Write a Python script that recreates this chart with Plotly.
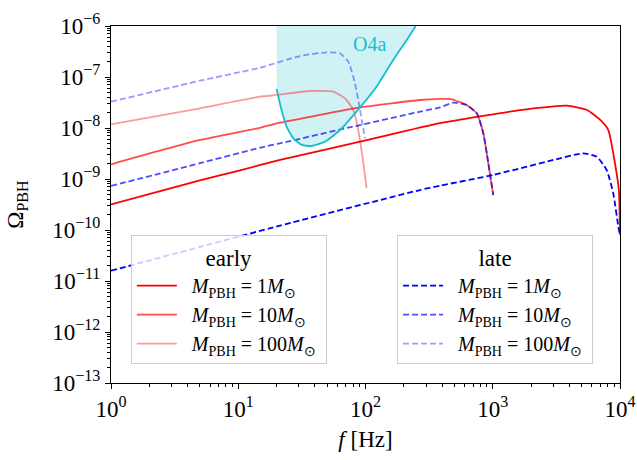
import plotly.graph_objects as go

# ---------------- data ----------------
f_early_1 = [1, 5.0, 10, 21.3, 100, 385, 1640, 2800, 3800, 5500, 7000, 8100, 9140, 9800, 10000]
om_early_1 = [3.19e-10, 9.4e-10, 1.45e-9, 2.36e-9, 5.7e-9, 1.24e-8, 2.25e-8, 2.6e-8, 2.74e-8,
              2.25e-8, 1.44e-8, 9.1e-9, 2.0e-9, 6.0e-10, 8e-11]

f_early_10 = [1, 5.0, 14.8, 21.3, 90.6, 268, 385, 461, 624, 748, 843, 923, 1009]
om_early_10 = [1.94e-9, 5.82e-9, 1.01e-8, 1.27e-8, 2.54e-8, 3.54e-8, 3.71e-8, 3.71e-8,
               2.82e-8, 1.94e-8, 7.87e-9, 2.04e-9, 4.85e-10]

f_early_100 = [1, 5.0, 14.8, 20.0, 36.6, 55.8, 69.0, 80.2, 87.7, 96.2, 102]
om_early_100 = [1.18e-8, 2.43e-8, 4.11e-8, 4.44e-8, 5.31e-8, 5.15e-8, 3.82e-8, 2.25e-8,
                9.14e-9, 2.04e-9, 6.6e-10]

f_late_1 = [1, 5.0, 21.3, 268, 385, 1009, 2992, 5152, 6561, 7852, 8851, 9705, 10000]
om_late_1 = [1.59e-11, 4.65e-11, 1.22e-10, 6.08e-10, 7.4e-10, 1.2e-9, 2.36e-9, 3.19e-9,
             2.74e-9, 1.5e-9, 5.25e-10, 1.16e-10, 7.9e-11]

f_late_10 = [1, 5.0, 14.8, 21.3, 78, 268, 385, 490, 624, 748, 843, 923, 1009]
om_late_10 = [7.3e-10, 2.04e-9, 4.11e-9, 5.01e-9, 1.05e-8, 2.09e-8, 2.54e-8, 3.14e-8,
              2.82e-8, 1.94e-8, 7.87e-9, 2.04e-9, 4.85e-10]

f_late_100 = [1, 5.0, 14.8, 30.5, 49.5, 63.1, 73.3, 82.6, 90.6, 99.1]
om_late_100 = [3.28e-8, 8.45e-8, 1.52e-7, 2.58e-7, 3.05e-7, 2.91e-7, 2.0e-7, 7.52e-8,
               2.25e-8, 6.27e-9]

f_o4a = [20.0, 21.9, 24.0, 27.1, 31.6, 37.8, 48.1, 63.1, 90.6, 122, 165, 211, 248]
om_o4a = [5.82e-8, 2.25e-8, 1.06e-8, 6.27e-9, 4.65e-9, 4.44e-9, 5.4e-9, 9.14e-9,
          2.54e-8, 6.46e-8, 2.15e-7, 5.31e-7, 1.0e-6]

masses = ["1", "10", "100"]
x_tickvals = [1, 10, 100, 1000, 10000]
x_ticktext = ["10<sup>0</sup>", "10<sup>1</sup>", "10<sup>2</sup>", "10<sup>3</sup>", "10<sup>4</sup>"]
y_exps = [-13, -12, -11, -10, -9, -8, -7, -6]
y_tickvals = [10.0 ** e for e in y_exps]
y_ticktext = ["10<sup>\u2212%d</sup>" % (-e) for e in y_exps]

FONT = "Liberation Serif"
CYAN = "#17becf"

fig = go.Figure()

# O4a region
fig.add_trace(go.Scatter(
    x=f_o4a + [f_o4a[-1], f_o4a[0]],
    y=om_o4a + [1e-6, 1e-6],
    fill="toself", fillcolor="rgba(23,190,207,0.2)",
    line=dict(width=0), mode="lines", showlegend=False, hoverinfo="skip"))


def label(m):
    return "  <i>M</i><sub>PBH</sub> = %s<i>M</i><sub>\u2299</sub> " % m


early = [(f_early_1, om_early_1, 1.0), (f_early_10, om_early_10, 0.7), (f_early_100, om_early_100, 0.4)]
late = [(f_late_1, om_late_1, 1.0), (f_late_10, om_late_10, 0.7), (f_late_100, om_late_100, 0.4)]

for i, (fx, oy, a) in enumerate(early):
    fig.add_trace(go.Scatter(
        x=fx, y=oy, mode="lines", name=label(masses[i]),
        line=dict(color="rgba(255,0,0,%s)" % a, width=1.8, shape="spline", smoothing=0.5),
        legend="legend", legendgroup="e%d" % i))

for i, (fx, oy, a) in enumerate(late):
    fig.add_trace(go.Scatter(
        x=fx, y=oy, mode="lines", name=label(masses[i]),
        line=dict(color="rgba(0,0,255,%s)" % a, width=1.8, dash="6px,3px",
                  shape="spline", smoothing=0.5),
        legend="legend2", legendgroup="l%d" % i))

fig.add_trace(go.Scatter(x=f_o4a, y=om_o4a, mode="lines",
                         line=dict(color=CYAN, width=1.8, shape="spline", smoothing=0.5),
                         showlegend=False))

fig.add_annotation(x=2.035, y=-6.35, xref="x", yref="y", text="O4a", showarrow=False,
                   font=dict(family=FONT, size=20, color=CYAN))

minor_x = [m * 10 ** d for d in range(0, 4) for m in range(2, 10)]
minor_y = [m * 10.0 ** d for d in range(-13, -6) for m in range(2, 10)]

axis_common = dict(showline=True, linecolor="black", linewidth=1, mirror=True,
                   ticks="outside", ticklen=5, tickwidth=1, tickcolor="black",
                   showgrid=False, zeroline=False, automargin=False,
                   tickfont=dict(family=FONT, size=23, color="black"))

fig.update_xaxes(type="log", range=[0, 4], tickmode="array", tickvals=x_tickvals,
                 ticktext=x_ticktext,
                 minor=dict(tickmode="array", tickvals=minor_x, ticks="outside",
                            ticklen=3, tickcolor="black", showgrid=False),
                 title=dict(text="<i>f</i> [Hz]", font=dict(family=FONT, size=23, color="black"),
                            standoff=10),
                 **axis_common)
fig.update_yaxes(type="log", range=[-13, -6], tickmode="array", tickvals=y_tickvals,
                 ticktext=y_ticktext,
                 minor=dict(tickmode="array", tickvals=minor_y, ticks="outside",
                            ticklen=3, tickcolor="black", showgrid=False),
                 title=dict(text="\u03a9<sub>PBH</sub>", font=dict(family=FONT, size=23, color="black"),
                            standoff=22),
                 **axis_common)

legend_common = dict(bgcolor="rgba(255,255,255,0.8)", bordercolor="#cccccc", borderwidth=1,
                     font=dict(family=FONT, size=20, color="black"),
                     xanchor="left", yanchor="top", traceorder="grouped", tracegroupgap=0,
                     itemwidth=40)

fig.update_layout(
    width=637, height=460,
    margin=dict(l=111, r=17, t=26, b=77),
    paper_bgcolor="white", plot_bgcolor="white",
    font=dict(family=FONT, color="black"),
    showlegend=True,
    legend=dict(x=0.039, y=0.414,
                title=dict(text="early", side="top center", font=dict(family=FONT, size=23)),
                **legend_common),
    legend2=dict(x=0.562, y=0.414,
                 title=dict(text="late", side="top center", font=dict(family=FONT, size=23)),
                 **legend_common),
)

fig.write_html("out.html")
